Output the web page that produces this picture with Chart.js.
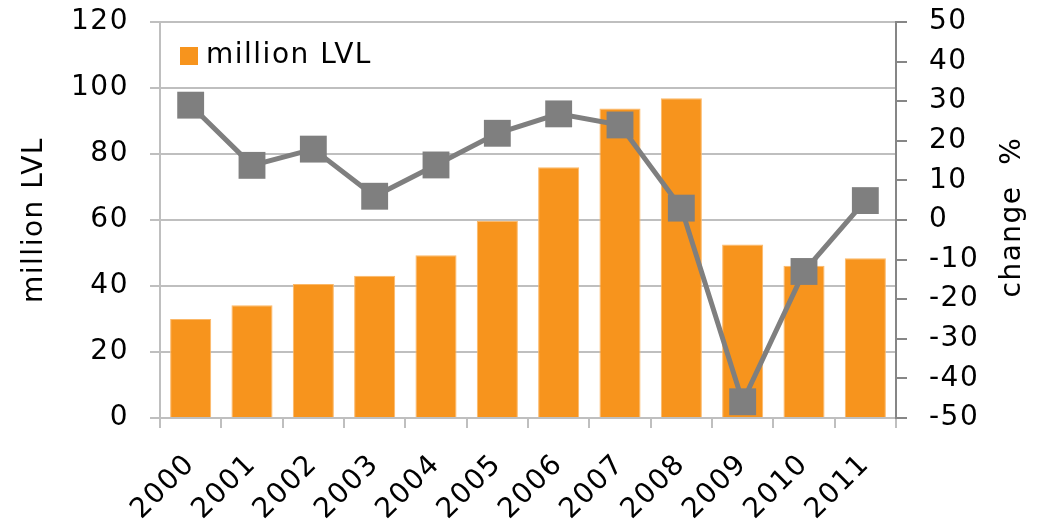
<!DOCTYPE html>
<html><head><meta charset="utf-8">
<script src="https://cdn.jsdelivr.net/npm/chart.js@4/dist/chart.umd.min.js"></script>
<style>html,body{margin:0;padding:0;background:#fff}#wrap{width:1045px;height:522px}</style>
</head><body><div id="wrap"><canvas id="c" width="1045" height="522"></canvas></div>
<script>
const years = ['2000','2001','2002','2003','2004','2005','2006','2007','2008','2009','2010','2011'];
const millionLVL = [30.0, 34.2, 40.6, 43.1, 49.3, 59.8, 76.0, 93.8, 96.9, 52.6, 46.1, 48.4];
const changePct = [29.0, 13.8, 17.9, 6.0, 13.9, 21.9, 26.8, 24.0, 3.0, -45.9, -13.0, 4.9];
const leftAxisTitle = 'million LVL';
const rightAxisTitle = 'change  %';
const barLabel = 'million LVL';
const lineLabel = 'change %';

const FONT = '"DejaVu Sans", Verdana, sans-serif';
const FS = 28;
const SPACING = '1.5px';

function noPad(s) { s.paddingTop = 0; s.paddingBottom = 0; s.paddingLeft = 0; s.paddingRight = 0; }

const spacingPlugin = {
  id: 'spacing',
  beforeInit(chart) { chart.ctx.letterSpacing = SPACING; },
  beforeDraw(chart) { chart.ctx.letterSpacing = SPACING; }
};

const titlesPlugin = {
  id: 'titles',
  afterDraw(chart) {
    const ctx = chart.ctx;
    const a = chart.chartArea;
    ctx.save();
    ctx.letterSpacing = SPACING;
    ctx.fillStyle = '#000';
    ctx.font = FS + 'px ' + FONT;
    ctx.textAlign = 'center';
    ctx.textBaseline = 'middle';
    const cy = (a.top + a.bottom) / 2;
    ctx.save(); ctx.translate(35, cy); ctx.rotate(-Math.PI/2); ctx.fillText(leftAxisTitle, 0, 0); ctx.restore();
    ctx.save(); ctx.translate(1013, cy - 3); ctx.rotate(-Math.PI/2); ctx.fillText(rightAxisTitle, 0, 0); ctx.restore();
    // legend (bar series only) inside plot area
    const ds = chart.data.datasets[0];
    ctx.fillStyle = ds.backgroundColor;
    ctx.fillRect(a.left + 20, a.top + 25, 18, 18);
    ctx.fillStyle = '#000';
    ctx.textAlign = 'left';
    ctx.fillText(ds.label, a.left + 46, a.top + 34);
    ctx.restore();
  }
};

new Chart(document.getElementById('c'), {
  data: {
    labels: years,
    datasets: [
      { type: 'bar', label: barLabel, data: millionLVL, yAxisID: 'y',
        backgroundColor: '#F7941D', borderColor: '#FBB868', borderWidth: 1,
        barPercentage: 0.67, categoryPercentage: 1.0, order: 2 },
      { type: 'line', label: lineLabel, data: changePct, yAxisID: 'y1',
        borderColor: '#7F7F7F', borderWidth: 5, pointStyle: 'rect', pointRadius: 19,
        pointHoverRadius: 19, pointBackgroundColor: '#7F7F7F', pointBorderColor: '#7F7F7F',
        pointBorderWidth: 0, tension: 0, clip: false, order: 1 }
    ]
  },
  options: {
    responsive: false, animation: false, devicePixelRatio: 1,
    layout: { padding: { top: 22, left: 0, right: 0, bottom: 0 } },
    plugins: { legend: { display: false }, tooltip: { enabled: false } },
    scales: {
      x: {
        offset: true,
        grid: { offset: true, drawOnChartArea: false, tickLength: 10, color: '#BFBFBF', lineWidth: 2 },
        border: { color: '#BFBFBF', width: 2 },
        ticks: { color: '#000', font: { family: FONT, size: FS }, minRotation: 45, maxRotation: 45, padding: 20, autoSkip: false },
        afterFit(s) { s.height = 104; noPad(s); }
      },
      y: {
        position: 'left', min: 0, max: 120,
        grid: { color: '#BFBFBF', lineWidth: 2, tickLength: 10 },
        border: { color: '#BFBFBF', width: 2 },
        ticks: { stepSize: 20, color: '#000', font: { family: FONT, size: FS }, padding: 21 },
        afterFit(s) { s.width = 160; noPad(s); }
      },
      y1: {
        position: 'right', min: -50, max: 50,
        grid: { drawOnChartArea: false, color: '#868686', lineWidth: 2, tickLength: 11 },
        border: { color: '#868686', width: 2 },
        ticks: { stepSize: 10, color: '#000', font: { family: FONT, size: FS }, padding: 22 },
        afterFit(s) { s.width = 149; noPad(s); }
      }
    }
  },
  plugins: [spacingPlugin, titlesPlugin]
});
</script></body></html>
